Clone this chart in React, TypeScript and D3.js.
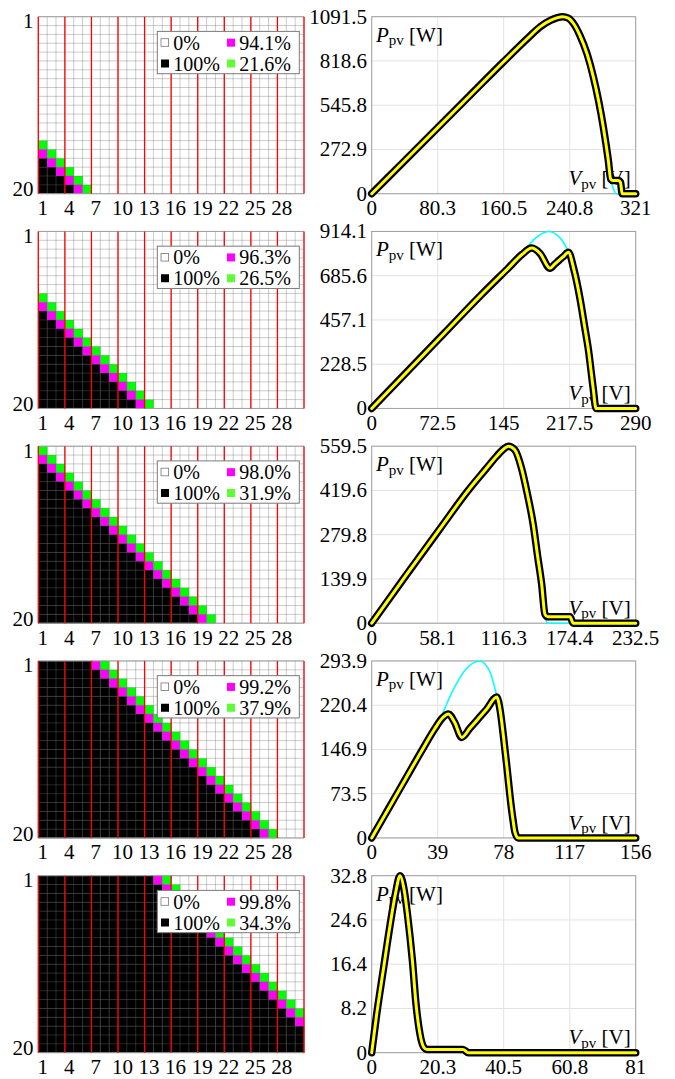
import React from "react";
import * as d3 from "d3";

const nRows = 20;
const nCols = 30;
const colTicks = [1, 4, 7, 10, 13, 16, 19, 22, 25, 28];
const rowTicks = [1, 20];

// column of the magenta cell in each row 1..20 (black to its left, green just right of it)
const magenta1 = [-14, -13, -12, -11, -10, -9, -8, -7, -6, -5, -4, -3, -2, -1, 0, 1, 2, 3, 4, 5];
const magenta2 = [-7, -6, -5, -4, -3, -2, -1, 0, 1, 2, 3, 4, 5, 6, 7, 8, 9, 10, 11, 12];
const magenta3 = [0, 1, 2, 3, 4, 5, 6, 7, 8, 9, 10, 11, 12, 13, 14, 15, 16, 17, 18, 19];
const magenta4 = [7, 8, 9, 10, 11, 12, 13, 14, 15, 16, 17, 18, 19, 20, 21, 22, 23, 24, 25, 26];
const magenta5 = [14, 15, 16, 17, 18, 19, 20, 21, 22, 23, 24, 25, 26, 27, 28, 29, 30, 31, 32, 33];

const pctMagenta = ["94.1%", "96.3%", "98.0%", "99.2%", "99.8%"];
const pctGreen = ["21.6%", "26.5%", "31.9%", "37.9%", "34.3%"];

const vTicks1 = ["0", "80.3", "160.5", "240.8", "321"];
const vTicks2 = ["0", "72.5", "145", "217.5", "290"];
const vTicks3 = ["0", "58.1", "116.3", "174.4", "232.5"];
const vTicks4 = ["0", "39", "78", "117", "156"];
const vTicks5 = ["0", "20.3", "40.5", "60.8", "81"];
const pTicks1 = ["0", "272.9", "545.8", "818.6", "1091.5"];
const pTicks2 = ["0", "228.5", "457.1", "685.6", "914.1"];
const pTicks3 = ["0", "139.9", "279.8", "419.6", "559.5"];
const pTicks4 = ["0", "73.5", "146.9", "220.4", "293.9"];
const pTicks5 = ["0", "8.2", "16.4", "24.6", "32.8"];

// P-V curves (shaded string) and reference curve (cyan)
const v1 = [0, 40, 80, 120, 160, 190, 205, 218, 226, 232, 239, 246, 253, 262, 269.5, 276, 281.6, 287.7, 290.6, 293, 300, 302.5, 304.5, 321];
const p1 = [0, 203, 406, 609, 812, 960, 1030, 1070, 1086, 1091.5, 1083, 1045, 978, 860, 721, 570, 412, 206, 90, 82, 82, 70, 0, 0];
const v1r = [0, 40, 80, 120, 160, 190, 205, 218, 226, 232, 239, 246, 253, 262, 269.5, 276, 281.6, 287.7, 290.6, 294, 297, 321];
const p1r = [0, 203, 406, 609, 812, 960, 1030, 1070, 1086, 1091.5, 1083, 1045, 978, 860, 721, 570, 412, 206, 90, 30, 0, 0];

const v2 = [0, 40, 80, 120, 150, 165, 175.8, 185, 195.9, 201, 206, 211, 216, 222, 228.8, 234, 237.9, 243.4, 246.4, 290];
const p2 = [0, 195, 390, 585, 725, 795, 828, 800, 724, 745, 766, 786, 807, 720, 568, 420, 308, 101, 0, 0];
const v2r = [0, 40, 80, 120, 150, 165, 180, 194, 205, 216, 222, 228.8, 234, 237.9, 243.4, 246.4, 290];
const p2r = [0, 195, 390, 585, 725, 800, 880, 914.1, 890, 807, 720, 568, 420, 308, 101, 0, 0];

const v3 = [0, 30, 60, 85, 100, 110, 116, 120.3, 126, 132, 137, 142.3, 146, 149.7, 152.6, 155, 174.6, 177.5, 232.5];
const p3 = [0, 150, 298, 420, 485, 528, 550, 559.5, 548, 489, 410, 311, 215, 123, 28, 20, 20, 0, 0];
const v3r = [0, 30, 60, 85, 100, 110, 116, 120.3, 126, 132, 137, 142.3, 146, 149.7, 152.6, 154.5, 232.5];
const p3r = [0, 150, 298, 420, 485, 528, 550, 559.5, 548, 489, 410, 311, 215, 123, 28, 0, 0];

const v4 = [0, 10, 20, 30, 37, 42, 45.3, 49, 53.2, 58, 63, 68, 73.9, 76, 77.8, 80, 81.7, 83.5, 84.7, 86.6, 156];
const p4 = [0, 49, 98, 147, 180, 200, 206, 192, 167, 182, 198, 214, 234, 210, 170, 115, 70, 30, 9, 0, 0];
const v4r = [0, 10, 20, 30, 37, 40.4, 48, 55, 64, 70, 73.9, 76, 77.8, 80, 81.7, 83.5, 84.7, 86.6, 156];
const p4r = [0, 49, 98, 147, 180, 198, 245, 278, 293.9, 275, 236, 210, 170, 115, 70, 30, 9, 0, 0];

const v5 = [0, 1.5, 3.6, 5.6, 7.3, 8.7, 10, 11, 12.5, 13.6, 14.8, 16, 17, 28, 29.7, 81];
const p5 = [0, 7, 15.5, 23.5, 29.5, 32.8, 30, 25.5, 17, 9, 3.5, 1, 0.6, 0.6, 0, 0];
const v5r = [0, 1.5, 3.6, 5.6, 7.3, 8.7, 10, 11, 12.5, 13.6, 14.8, 16, 17, 28, 29.7, 81];
const p5r = [0, 7, 15.5, 23.5, 29.5, 32.8, 30, 25.5, 17, 9, 3.5, 1, 0.6, 0.6, 0, 0];

const panels = [
    {magenta: magenta1, pm: pctMagenta[0], pg: pctGreen[0], vT: vTicks1, pT: pTicks1, v: v1, p: p1, vr: v1r, pr: p1r},
    {magenta: magenta2, pm: pctMagenta[1], pg: pctGreen[1], vT: vTicks2, pT: pTicks2, v: v2, p: p2, vr: v2r, pr: p2r},
    {magenta: magenta3, pm: pctMagenta[2], pg: pctGreen[2], vT: vTicks3, pT: pTicks3, v: v3, p: p3, vr: v3r, pr: p3r},
    {magenta: magenta4, pm: pctMagenta[3], pg: pctGreen[3], vT: vTicks4, pT: pTicks4, v: v4, p: p4, vr: v4r, pr: p4r},
    {magenta: magenta5, pm: pctMagenta[4], pg: pctGreen[4], vT: vTicks5, pT: pTicks5, v: v5, p: p5, vr: v5r, pr: p5r},
];

const W = 675, H = 1079;
const gridL = 38.3, gridR = 304;
const plotL = 371.7, plotR = 635.7;
const top0 = 16.7, rowStep = 214.75, rowH = 177;
const font = "'Liberation Serif', 'DejaVu Serif', serif";
const fs = 21;
const lfs = 20;

function ShadeGrid({top, magenta, pm, pg}: {top: number, magenta: number[], pm: string, pg: string}) {
    const x = d3.scaleLinear().domain([0, nCols]).range([gridL, gridR]);
    const y = d3.scaleLinear().domain([0, nRows]).range([top, top + rowH]);
    const cells: {r: number, c: number, fill: string}[] = [];
    magenta.forEach((b, r) => {
        for (let c = 1; c <= nCols; c++) {
            const fill = c < b ? "#000000" : c === b ? "#ff00ff" : c === b + 1 ? "#00ff00" : null;
            if (fill) cells.push({r, c, fill});
        }
    });
    const lx = 157.3, ly = top + 14.7;
    return <g>
        <rect x={gridL} y={top} width={gridR - gridL} height={rowH} fill="#fff"/>
        {cells.map((d, i) => <rect key={i} x={x(d.c - 1)} y={y(d.r)} width={x(1) - x(0) + 0.3}
                                   height={y(1) - y(0) + 0.3} fill={d.fill}/>)}
        {d3.range(nCols + 1).map(i => <line key={"v" + i} x1={x(i)} x2={x(i)} y1={top} y2={top + rowH}
                                            stroke="#6e6e6e" strokeOpacity={0.4} strokeWidth={0.9}/>)}
        {d3.range(nRows + 1).map(i => <line key={"h" + i} y1={y(i)} y2={y(i)} x1={gridL} x2={gridR}
                                            stroke="#6e6e6e" strokeOpacity={0.4} strokeWidth={0.9}/>)}
        <line x1={gridL} x2={gridR} y1={top} y2={top} stroke="#a0a0a0" strokeWidth={1}/>
        <line x1={gridL} x2={gridR} y1={top + rowH} y2={top + rowH} stroke="#a0a0a0" strokeWidth={1}/>
        {d3.range(0, nCols + 1, 3).map(i => <line key={"r" + i} x1={x(i)} x2={x(i)} y1={top} y2={top + rowH}
                                                  stroke="#ff0000" strokeWidth={1.3}/>)}
        {colTicks.map(c => <text key={"xt" + c} x={x(c - 0.5)} y={top + rowH + 21.5} textAnchor="middle"
                                 fontSize={fs} fontFamily={font}>{c}</text>)}
        {rowTicks.map(r => <text key={"yt" + r} x={33.5} y={y(r - 0.5) + 7} textAnchor="end"
                                 fontSize={fs} fontFamily={font}>{r}</text>)}
        <rect x={lx} y={ly} width={142} height={42.3} fill="#fff" stroke="#7a7a7a" strokeWidth={1}/>
        <rect x={161} y={top + 22} width={7.6} height={7.6} fill="#fff" stroke="#777" strokeWidth={0.8}/>
        <text x={173.3} y={top + 33} fontSize={lfs} fontFamily={font}>0%</text>
        <rect x={227} y={top + 22} width={8} height={8} fill="#ff00ff"/>
        <text x={239.3} y={top + 33} fontSize={lfs} fontFamily={font}>{pm}</text>
        <rect x={161} y={top + 42.8} width={8} height={8} fill="#000"/>
        <text x={173.3} y={top + 53.8} fontSize={lfs} fontFamily={font}>100%</text>
        <rect x={227} y={top + 42.8} width={8} height={8} fill="#5cff33"/>
        <text x={239.3} y={top + 53.8} fontSize={lfs} fontFamily={font}>{pg}</text>
    </g>;
}

function PVPlot({top, v, p, vr, pr, vT, pT}: {top: number, v: number[], p: number[], vr: number[], pr: number[], vT: string[], pT: string[]}) {
    const x = d3.scaleLinear().domain([0, +vT[vT.length - 1]]).range([plotL, plotR]);
    const y = d3.scaleLinear().domain([0, +pT[pT.length - 1]]).range([top + rowH, top]);
    const mk = (vs: number[]) => d3.line<number>().x((_, i) => x(vs[i])).y(d => y(d)).curve(d3.curveMonotoneX);
    const main = mk(v)(p) ?? "";
    const ref = mk(vr)(pr) ?? "";
    return <g>
        <rect x={plotL} y={top} width={plotR - plotL} height={rowH} fill="#fff"/>
        {vT.map(t => <line key={"gx" + t} x1={x(+t)} x2={x(+t)} y1={top} y2={top + rowH} stroke="#e2e2e2" strokeWidth={1}/>)}
        {pT.map(t => <line key={"gy" + t} y1={y(+t)} y2={y(+t)} x1={plotL} x2={plotR} stroke="#e2e2e2" strokeWidth={1}/>)}
        <rect x={plotL} y={top} width={plotR - plotL} height={rowH} fill="none" stroke="#a0a0a0" strokeWidth={1}/>
        {vT.map(t => <text key={"xl" + t} x={x(+t)} y={top + rowH + 21.5} textAnchor="middle"
                           fontSize={fs} fontFamily={font}>{t}</text>)}
        {pT.map(t => <text key={"yl" + t} x={367} y={y(+t) + 7} textAnchor="end"
                           fontSize={fs} fontFamily={font}>{t}</text>)}
        <text x={376} y={top + 25} fontSize={fs} fontFamily={font}>
            <tspan fontStyle="italic">P</tspan>
            <tspan fontSize={15} dy={3.5}>pv</tspan>
            <tspan dy={-3.5}> [W]</tspan>
        </text>
        <text x={630.7} y={top + rowH - 8.3} fontSize={fs} fontFamily={font} textAnchor="end">
            <tspan fontStyle="italic">V</tspan>
            <tspan fontSize={15} dy={3.5}>pv</tspan>
            <tspan dy={-3.5}> [V]</tspan>
        </text>
        <path d={ref} fill="none" stroke="#00ffff" strokeWidth={1.5}/>
        <path d={main} fill="none" stroke="#000" strokeWidth={7.5} strokeLinejoin="round" strokeLinecap="round"/>
        <path d={main} fill="none" stroke="#ffff00" strokeWidth={3} strokeLinejoin="round" strokeLinecap="round"/>
    </g>;
}

export default function App() {
    return <div style={{position: "absolute", left: 0, top: 0}}>
        <svg width={W} height={H} style={{display: "block", background: "#fff"}}>
            {panels.map((d, i) => {
                const top = top0 + i * rowStep;
                return <g key={i}>
                    <ShadeGrid top={top} magenta={d.magenta} pm={d.pm} pg={d.pg}/>
                    <PVPlot top={top} v={d.v} p={d.p} vr={d.vr} pr={d.pr} vT={d.vT} pT={d.pT}/>
                </g>;
            })}
        </svg>
    </div>;
}
